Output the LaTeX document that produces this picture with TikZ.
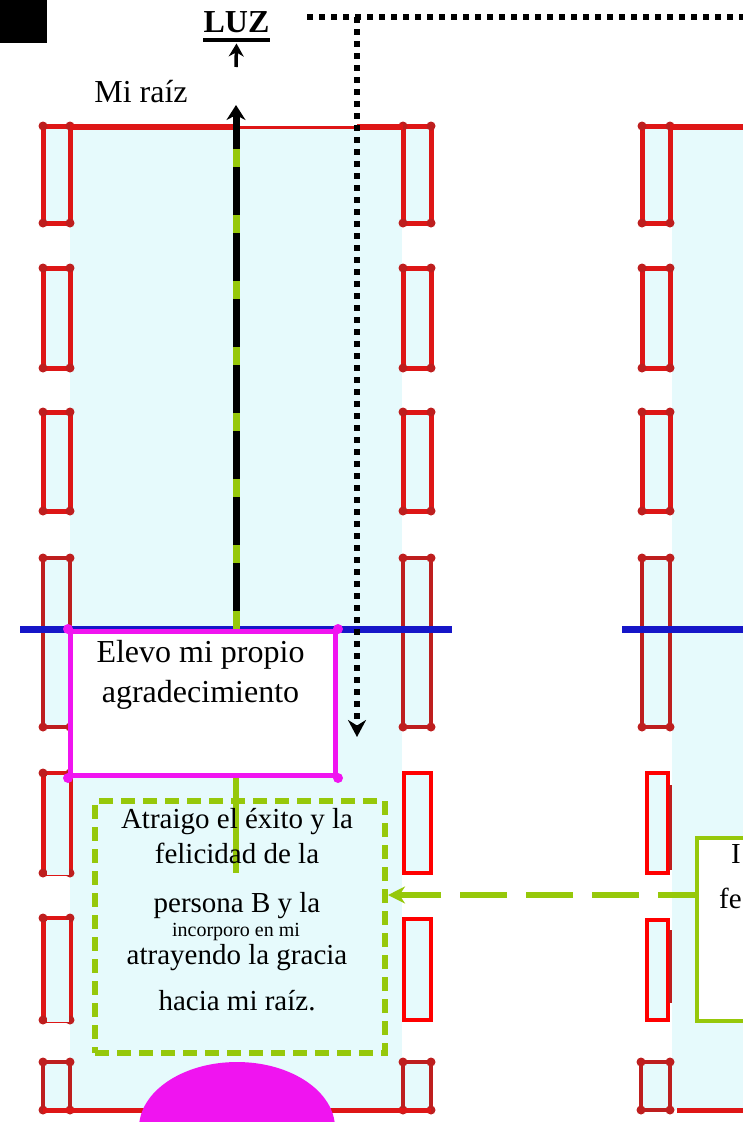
\documentclass[tikz,border=0pt]{standalone}
\usepackage{fontspec}
\setmainfont{Liberation Serif}
\usetikzlibrary{arrows.meta,calc}
\definecolor{cy}{RGB}{230,250,252}
\definecolor{wred}{RGB}{222,22,22}
\definecolor{dred}{RGB}{190,30,30}
\definecolor{bred}{RGB}{255,0,0}
\definecolor{bl}{RGB}{22,22,200}
\definecolor{mg}{RGB}{240,20,240}
\definecolor{yg}{RGB}{150,200,10}
\newcommand\winbox[5]{%
  \draw[#5] (#1,#2) rectangle (#3,#4);
  \foreach \wx/\wy in {#1/#2,#3/#2,#1/#4,#3/#4} \fill[dred] (\wx,\wy) circle (4.5pt);}
\begin{document}
\begin{tikzpicture}[x=1pt,y=-1pt,
  win/.style={draw=wred,line width=5pt,fill=cy},
  winthin/.style={draw=dred,line width=3.5pt,fill=cy},
  patchwin/.style={draw=bred,line width=4pt,fill=cy},
  bigtxt/.style={font=\fontsize{32}{38}\selectfont,inner sep=0pt,anchor=base},
  midtxt/.style={font=\fontsize{29}{34}\selectfont,inner sep=0pt,anchor=base},
  smalltxt/.style={font=\fontsize{20}{24}\selectfont,inner sep=0pt,anchor=base},
  dotline/.style={black,line width=6pt,dash pattern=on 5.5pt off 6.5pt},
  >={Stealth}]
\useasboundingbox (0,0) rectangle (743,1122);
\clip (0,0) rectangle (743,1122);
% black square
\fill[black] (0,0) rectangle (47,43);
% building fills
\fill[cy] (70,127) rectangle (402,1110);
\fill[cy] (672,127) rectangle (743,1110);
% windows, left building, left column
\winbox{43}{126}{70}{223}{win}
\winbox{43}{268}{70}{368}{win}
\winbox{43}{412}{70}{511}{win}
\winbox{43}{558}{70}{727}{winthin}
\winbox{43}{773}{70}{873}{win}
\fill[cy] (46.5,775) rectangle (68.5,875);
\winbox{43}{918}{70}{1020}{win}
\fill[cy] (46.5,920) rectangle (68.5,1022);
\winbox{43}{1062}{70}{1110}{winthin}
% windows, left building, right column
\winbox{403}{126}{431}{223}{win}
\winbox{403}{268}{431}{368}{win}
\winbox{403}{412}{431}{511}{win}
\winbox{403}{558}{431}{727}{winthin}
\draw[patchwin] (404,773) rectangle (431,873);
\draw[patchwin] (404,919) rectangle (431,1020);
\winbox{403}{1062}{431}{1110}{winthin}
% windows, right building
\winbox{642}{126}{670}{223}{win}
\winbox{642}{268}{670}{368}{win}
\winbox{642}{412}{670}{511}{win}
\winbox{642}{558}{670}{727}{winthin}
\draw[patchwin] (647,773) rectangle (668,873);
\draw[dred,line width=3pt] (670,785) -- (670,870);
\draw[patchwin] (647,920) rectangle (668,1020);
\draw[dred,line width=3pt] (670,930) -- (670,1003);
\winbox{641}{1062}{670}{1110}{winthin}
% roofs and floors
\draw[wred,line width=6pt] (70,127) -- (236,127);
\draw[wred,line width=3pt] (236,127) -- (357,127);
\draw[wred,line width=6pt] (357,127) -- (403,127);
\draw[wred,line width=6pt] (670,127) -- (743,127);
\draw[wred,line width=5pt] (43,1110) -- (431,1110);
\draw[wred,line width=5pt] (677,1110) -- (743,1110);
% blue lines
\draw[bl,line width=7pt] (20,629) -- (452,629);
\draw[bl,line width=7pt] (622,629) -- (743,629);
% texts top
\node[bigtxt,font=\bfseries\fontsize{32}{38}\selectfont] (luz) at (236.5,32) {LUZ};
\draw[line width=3.5pt] ($(luz.base west)+(0,8)$) -- ($(luz.base east)+(0,8)$);
\coordinate (sa) at (236,67);
\draw[line width=3.5pt,-{Stealth[length=13pt,width=15pt]}] (sa) -- ([yshift=-11pt]luz.south);
\node[bigtxt] (miraiz) at (141,102) {Mi raíz};
% boxes
\node[draw=mg,line width=5pt,fill=white,minimum width=265pt,minimum height=144pt,inner sep=0pt,anchor=north west] (elevo) at (68,629) {};
\foreach \c in {north west,north east,south west,south east} \fill[mg] (elevo.\c) circle (5pt);
\node[bigtxt] (elevoA) at (200.5,662) {Elevo mi propio};
\node[bigtxt] (elevoB) at (200.5,702) {agradecimiento};
% root arrow
\coordinate (rt) at (236,105);
\draw[yg,line width=7pt] (elevo.north -| rt) -- ([yshift=-14pt]rt);
\draw[black,line width=7pt,dash pattern=on 48pt off 18pt,dash phase=48pt,-{Stealth[length=15pt,width=19pt]}] (elevo.north -| rt) -- (rt);
% dotted light line
\coordinate (d0) at (307,17);
\coordinate (d1) at (743,17);
\coordinate (dc) at (357,17);
\coordinate (dt) at (357,737);
\draw[dotline] (d0) -- (d1);
\draw[dotline,-{Stealth[length=17pt,width=18pt]}] (dc) -- (dt);
% green stem
\coordinate (stemb) at (236,873);
\draw[yg,line width=6.5pt] (elevo.south -| rt) -- (stemb);
% dashed box
\node[draw=yg,line width=6pt,dash pattern=on 14pt off 8pt,minimum width=290pt,minimum height=252pt,inner sep=0pt,anchor=north west] (atr) at (92,798) {};
\node[midtxt] (t1) at (237,828) {Atraigo el éxito y la};
\node[midtxt] (t2) at (237,863) {felicidad de la};
\node[midtxt] (t3) at (237,912) {persona B y la};
\node[smalltxt] (t4) at (236,936) {incorporo en mi};
\node[midtxt] (t5) at (237,964) {atrayendo la gracia};
\node[midtxt] (t6) at (237,1010) {hacia mi raíz.};
% right box
\node[draw=yg,line width=4pt,fill=white,minimum width=120pt,minimum height=183pt,inner sep=0pt,anchor=north west] (rbox) at (695,836) {};
\node[midtxt,anchor=base west] (r1) at (731,863) {I};
\node[midtxt,anchor=base west] (r2) at (719,908) {fe};
% green dashed arrow
\coordinate (ay) at (0,895);
\draw[yg,line width=6.5pt,dash pattern=on 47pt off 19pt,dash phase=10pt,-{Stealth[length=17pt,width=17pt]}] (rbox.west |- ay) -- (atr.east |- ay);
% magenta ellipse
\fill[mg] (237,1128) ellipse [x radius=98pt,y radius=66pt];
\end{tikzpicture}
\end{document}
